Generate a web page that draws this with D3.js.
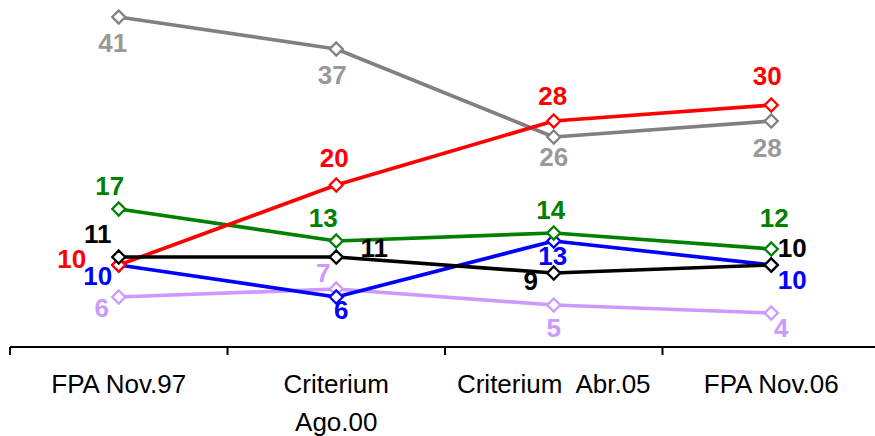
<!DOCTYPE html>
<html>
<head>
<meta charset="utf-8">
<script src="https://cdn.jsdelivr.net/npm/d3@7"></script>
<style>
  html, body { margin: 0; padding: 0; background: #fff; }
  svg { display: block; }
  text { font-family: "Liberation Sans", Arial, sans-serif; }
</style>
</head>
<body>
<svg id="chart" width="875" height="436"></svg>
<script>
// ---- data ----
const categories = ["FPA Nov.97", "Criterium Ago.00", "Criterium Abr.05", "FPA Nov.06"];
const categoryLines = [["FPA Nov.97"], ["Criterium", "Ago.00"], ["Criterium  Abr.05"], ["FPA Nov.06"]];
const grayValues     = [41, 37, 26, 28];
const lavenderValues = [6, 7, 5, 4];
const blueValues     = [10, 6, 13, 10];
const greenValues    = [17, 13, 14, 12];
const redValues      = [10, 20, 28, 30];
const blackValues    = [11, 11, 9, 10];

// ---- styling / layout ----
const series = [
  { values: grayValues,     line: "#808080", label: "#999999",
    off: [[-6, 35], [-4, 35], [0, 29], [-4, 36]] },
  { values: lavenderValues, line: "#cc99ff", label: "#cc99ff",
    off: [[-17, 20], [-13, -7], [0, 32], [10, 24]] },
  { values: blueValues,     line: "#0000ff", label: "#0000ff",
    off: [[-21, 20], [5, 22], [-1, 24], [21, 24]] },
  { values: greenValues,    line: "#008000", label: "#008000",
    off: [[-9, -14], [-13, -14], [-3, -14], [3, -22]] },
  { values: redValues,      line: "#ff0000", label: "#ff0000",
    off: [[-47, 3], [-2, -18], [-1, -16], [-4, -20]] },
  { values: blackValues,    line: "#000000", label: "#000000",
    off: [[-21, -14], [38, 0], [-23, 17], [21, -8]] }
];

const svg = d3.select("#chart");

const x = d3.scaleBand().domain(categories).range([10, 880]).paddingInner(0).paddingOuter(0);
const y = d3.scaleLinear().domain([0, 41]).range([345, 17]);
const cx = c => x(c) + x.bandwidth() / 2;

// axis
const axisY = 347;
const axis = d3.axisBottom(x).tickSize(0).tickFormat("");
const gAxis = svg.append("g").attr("transform", `translate(0,${axisY})`).call(axis);
gAxis.select(".domain").attr("stroke", "#000").attr("stroke-width", 2).attr("d", "M10,0H880");
const bounds = categories.map(c => x(c)).concat([x(categories[categories.length - 1]) + x.bandwidth()]);
gAxis.selectAll("line.bt").data(bounds).enter().append("line")
  .attr("class", "bt")
  .attr("x1", d => d).attr("x2", d => d)
  .attr("y1", 0).attr("y2", 8)
  .attr("stroke", "#000").attr("stroke-width", 2);

// category labels
categories.forEach((c, i) => {
  const t = svg.append("text")
    .attr("x", cx(c)).attr("y", 393)
    .attr("text-anchor", "middle")
    .attr("font-size", 26).attr("fill", "#000");
  categoryLines[i].forEach((ln, j) => {
    t.append("tspan").attr("x", cx(c)).attr("y", 393 + j * 38)
      .attr("xml:space", "preserve").text(ln);
  });
});

// lines + markers
const lineGen = d3.line().x((d, i) => cx(categories[i])).y(d => y(d));

series.forEach(s => {
  svg.append("path").datum(s.values)
    .attr("d", lineGen).attr("fill", "none")
    .attr("stroke", s.line).attr("stroke-width", 3.7)
    .attr("stroke-linejoin", "round");
  svg.selectAll(null).data(s.values).enter().append("path")
    .attr("d", "M0,-6.5L6.5,0L0,6.5L-6.5,0Z")
    .attr("transform", (d, i) => `translate(${cx(categories[i])},${y(d)})`)
    .attr("fill", "#fff").attr("stroke", s.line).attr("stroke-width", 2.3);
});

// data labels
series.forEach(s => {
  svg.selectAll(null).data(s.values).enter().append("text")
    .attr("x", (d, i) => cx(categories[i]) + s.off[i][0])
    .attr("y", (d, i) => y(d) + s.off[i][1])
    .attr("text-anchor", "middle")
    .attr("font-size", 26).attr("font-weight", "bold")
    .attr("fill", s.label)
    .text(d => d);
});
</script>
</body>
</html>
